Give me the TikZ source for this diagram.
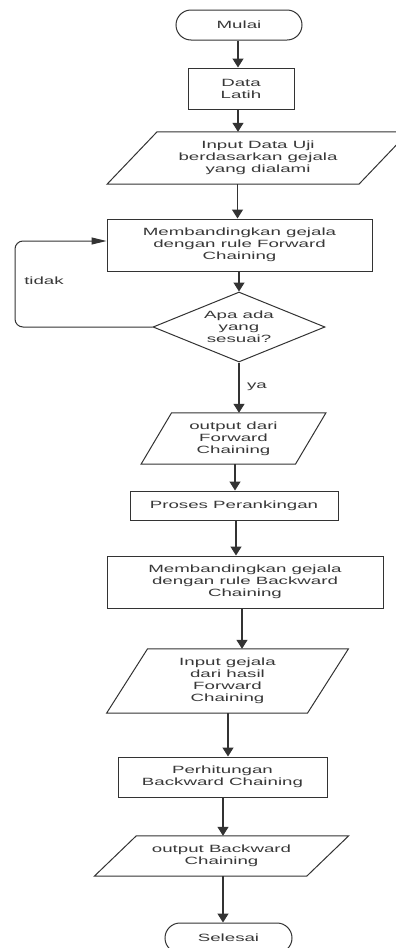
\documentclass[tikz,border=0pt]{standalone}
\usepackage{fontspec}
\setmainfont{Liberation Sans}[FakeStretch=1.78]
\usetikzlibrary{arrows.meta,shapes.geometric,shapes.misc,calc}
\definecolor{ln}{HTML}{333333}
\definecolor{tx}{HTML}{383838}
\newcommand\iobox[7]{%
  \node[iotext,minimum width=#4pt,minimum height=#5pt] (#1) at (#2,#3) {#7};
  \draw[outl] ($(#1.north west)+(#6/2,0)$) -- ($(#1.north east)+(#6/2,0)$)
    -- ($(#1.south east)-(#6/2,0)$) -- ($(#1.south west)-(#6/2,0)$) -- cycle;}
\tikzset{
  base/.style={font=\fontsize{10.5}{12}\selectfont, text=tx, align=center, inner sep=0pt},
  proc/.style={base, draw=ln, line width=1pt, rectangle},
  term/.style={base, draw=ln, line width=1pt, rounded rectangle},
  dec/.style={base, draw=ln, line width=1pt, diamond, aspect=2.46},
  iotext/.style={base},
  outl/.style={draw=ln, line width=1pt},
  arr/.style={draw=ln, line width=1.3pt, -{Triangle[width=11pt,length=9pt]}},
  arrh/.style={draw=ln, line width=1pt, rounded corners=8pt, -{Triangle[width=7pt,length=15pt]}},
  lbl/.style={font=\fontsize{10.5}{12}\selectfont, text=tx, inner sep=0pt}
}
\begin{document}
\begin{tikzpicture}[x=1pt,y=-1pt]
\useasboundingbox[fill=white] (0,0) rectangle (396,948);
\node[term, minimum width=126pt, minimum height=30pt] (start) at (239,25) {Mulai};
\node[proc, minimum width=106pt, minimum height=41pt] (latih) at (241,88.5) {Data\\Latih};
\iobox{uji}{258}{158}{251.5}{52}{50}{Input Data Uji\\berdasarkan gejala\\yang dialami}
\node[proc, minimum width=265pt, minimum height=52pt] (fc) at (239.5,245) {Membandingkan gejala\\dengan rule Forward\\Chaining};
\node[dec, minimum width=172pt, minimum height=70pt] (cek) at (239,327) {Apa ada\\yang\\sesuai?};
\iobox{outfc}{233.5}{438.5}{154}{51}{30.5}{output dari\\Forward\\Chaining}
\node[proc, minimum width=208pt, minimum height=29pt] (rank) at (234,505.5) {Proses Perankingan};
\node[proc, minimum width=276pt, minimum height=52pt] (bc) at (245,582) {Membandingkan gejala\\dengan rule Backward\\Chaining};
\iobox{ingj}{227.5}{681}{200.5}{64}{41}{Input gejala\\dari hasil\\Forward\\Chaining}
\node[proc, minimum width=209pt, minimum height=40pt] (hitung) at (222.5,777) {Perhitungan\\Backward Chaining};
\iobox{outbc}{221.5}{856}{212}{40}{42}{output Backward\\Chaining}
\node[term, minimum width=127pt, minimum height=30pt] (end) at (228.5,938) {Selesai};
% columns for vertical connectors
\coordinate (x1) at (238,0);
\coordinate (x2) at (237.5,0);
\coordinate (x4) at (235,0);
\coordinate (x5) at (236,0);
\coordinate (x6) at (242,0);
\coordinate (x7) at (228,0);
\coordinate (x8) at (223,0);
\draw[arr] (start.south -| x1) -- (latih.north -| x1);
\draw[arr] (latih.south -| x1) -- (uji.north -| x1);
\draw[arr] (uji.south -| x2) -- (fc.north -| x2);
\draw[arr] (fc.south -| cek.north) -- (cek.north);
\draw[arr] (cek.south) -- (outfc.north -| cek.south);
\draw[arr] (outfc.south -| x4) -- (rank.north -| x4);
\draw[arr] (rank.south -| x5) -- (bc.north -| x5);
\draw[arr] (bc.south -| x6) -- (ingj.north -| x6);
\draw[arr] (ingj.south -| x7) -- (hitung.north -| x7);
\draw[arr] (hitung.south -| x8) -- (outbc.north -| x8);
\draw[arr] (outbc.south -| x8) -- (end.north -| x8);
% loop back
\coordinate (lp) at (15,241);
\draw[arrh] (cek.west) -- (cek.west -| lp) -- (lp) -- (lp -| fc.west);
\node[lbl] (tidak) at (44,281) {tidak};
\node[lbl] (ya) at (257,387) {ya};
\end{tikzpicture}
\end{document}
